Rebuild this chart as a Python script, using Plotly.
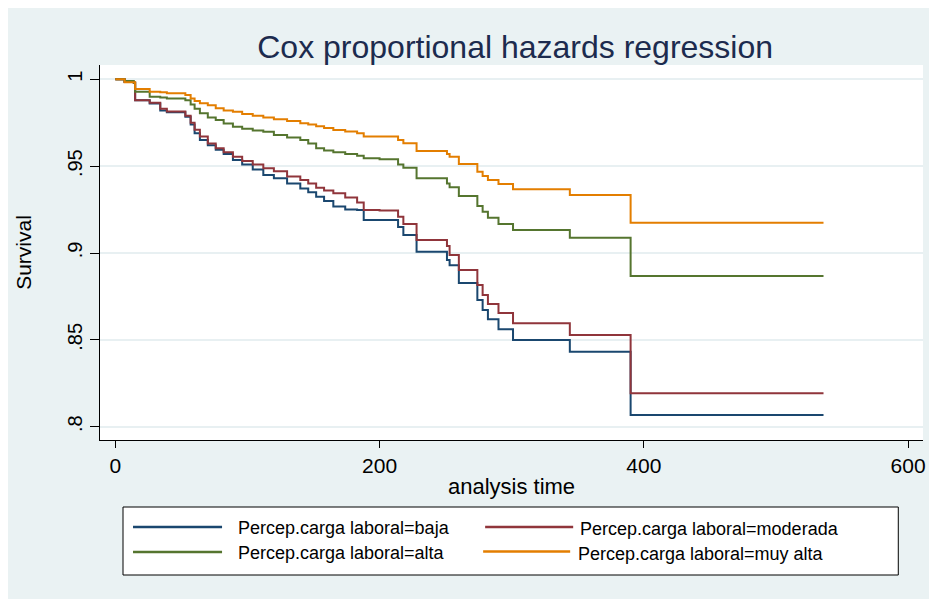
import plotly.graph_objects as go

# ---------------- data ----------------
tiempo = [0, 7, 14, 15, 26, 34, 39, 53, 57, 60, 64, 70, 76, 82, 89, 96, 104, 112,
          120, 130, 140, 146, 152, 158, 165, 174, 183, 188, 200, 214, 218, 228,
          251, 253, 260, 274, 278, 282, 290, 301, 344, 390, 536]

s_baja = [1.0, 0.9985, 0.998, 0.988, 0.986, 0.982, 0.981, 0.9785, 0.974, 0.969, 0.965,
          0.962, 0.9595, 0.957, 0.9535, 0.951, 0.948, 0.9449, 0.943, 0.940, 0.9372,
          0.935, 0.9324, 0.930, 0.9267, 0.925, 0.9248, 0.919, 0.919, 0.915, 0.9104,
          0.9007, 0.896, 0.893, 0.8827, 0.873, 0.8672, 0.8618, 0.8561, 0.8499, 0.8432,
          0.8067, 0.8067]

s_moderada = [1.0, 0.9985, 0.998, 0.988, 0.9865, 0.983, 0.9815, 0.979, 0.975, 0.971,
              0.967, 0.963, 0.9603, 0.958, 0.9554, 0.953, 0.951, 0.9488, 0.947, 0.944,
              0.942, 0.940, 0.9375, 0.936, 0.9344, 0.932, 0.929, 0.9248, 0.9244, 0.9209,
              0.9167, 0.9075, 0.904, 0.8988, 0.8902, 0.8816, 0.8758, 0.8706, 0.8654,
              0.8595, 0.8528, 0.8192, 0.8192]

s_alta = [1.0, 0.999, 0.998, 0.9929, 0.990, 0.9895, 0.989, 0.988, 0.9855, 0.983, 0.9804,
          0.978, 0.9766, 0.9745, 0.9727, 0.9715, 0.9705, 0.9698, 0.968, 0.9665, 0.965,
          0.963, 0.9603, 0.959, 0.958, 0.957, 0.956, 0.9545, 0.9539, 0.951, 0.9491,
          0.943, 0.940, 0.9378, 0.9328, 0.927, 0.9238, 0.9203, 0.9167, 0.9132, 0.9088,
          0.8868, 0.8868]

s_muy_alta = [1.0, 0.9983, 0.9983, 0.9944, 0.9929, 0.9925, 0.9919, 0.991, 0.989, 0.9875,
              0.9862, 0.985, 0.9833, 0.982, 0.9813, 0.980, 0.979, 0.978, 0.977, 0.976,
              0.9747, 0.974, 0.973, 0.972, 0.9708, 0.970, 0.969, 0.967, 0.967, 0.965,
              0.9632, 0.9587, 0.957, 0.9554, 0.9512, 0.9468, 0.9443, 0.942, 0.9397,
              0.9367, 0.9334, 0.9174, 0.9174]

series_names = ["Percep.carga laboral=baja", "Percep.carga laboral=moderada",
                "Percep.carga laboral=alta", "Percep.carga laboral=muy alta"]
series_values = [s_baja, s_moderada, s_alta, s_muy_alta]
series_colors = ["#1a476f", "#90353b", "#55752f", "#e37e00"]

y_tick_vals = [0.8, 0.85, 0.9, 0.95, 1.0]
y_tick_text = [".8", ".85", ".9", ".95", "1"]
x_tick_vals = [0, 200, 400, 600]
x_tick_text = ["0", "200", "400", "600"]

# ---------------- figure ----------------
OFF = 8                      # browser body margin
W, H = 937 - OFF, 599 - OFF
L, R, T, B = 92, 14.3, 57, 159
pw, ph = W - L - R, H - T - B


def px_x(px):   # page pixel -> paper coordinate
    return (px - OFF - L) / pw


def px_y(py):
    return (H - B - (py - OFF)) / ph


fig = go.Figure()
for name, vals, col in zip(series_names, series_values, series_colors):
    fig.add_trace(go.Scatter(x=tiempo, y=vals, mode="lines", name=name,
                             line=dict(color=col, width=2, shape="hv"),
                             showlegend=False))

shapes = []
annotations = []

# legend box
shapes.append(dict(type="rect", xref="paper", yref="paper", x0=px_x(123), x1=px_x(898),
                   y0=px_y(575), y1=px_y(507), fillcolor="white",
                   line=dict(color="black", width=1)))
leg_pos = [  # line x0, x1, y, text x, text y
    (133, 222, 527, 236, 528),
    (485, 573, 527, 578, 529),
    (133, 222, 552, 236, 553),
    (483, 570, 551.5, 576, 554),
]
for (lx0, lx1, ly, tx, ty), name, col in zip(leg_pos, series_names, series_colors):
    shapes.append(dict(type="line", xref="paper", yref="paper", x0=px_x(lx0), x1=px_x(lx1),
                       y0=px_y(ly), y1=px_y(ly), line=dict(color=col, width=2.5)))
    annotations.append(dict(xref="paper", yref="paper", x=px_x(tx), y=px_y(ty),
                            text=name, showarrow=False, xanchor="left", yanchor="middle",
                            font=dict(size=18, color="black")))

fig.update_layout(
    width=W, height=H,
    margin=dict(l=L, r=R, t=T, b=B, pad=0),
    paper_bgcolor="#eaf2f3",
    plot_bgcolor="white",
    font=dict(family="Liberation Sans, Arial, sans-serif", color="black"),
    title=dict(text="Cox proportional hazards regression", x=px_x(515), xref="paper",
               xanchor="center", y=1 - (47 - OFF) / H, yref="container", yanchor="middle",
               font=dict(size=32, color="#1c2b4e")),
    shapes=shapes,
    annotations=annotations,
    showlegend=False,
)

fig.update_xaxes(range=[-11.6, 611.3], tickvals=x_tick_vals, ticktext=x_tick_text,
                 ticks="outside", ticklen=7, tickwidth=1.3, tickcolor="black",
                 showline=True, linecolor="black", linewidth=1.3, mirror=False,
                 showgrid=False, zeroline=False, tickfont=dict(size=21),
                 title=dict(text="analysis time", font=dict(size=22), standoff=2))
fig.update_yaxes(range=[0.79234, 1.00823], tickvals=y_tick_vals, ticktext=y_tick_text,
                 tickangle=-90, ticks="outside", ticklen=9, tickwidth=1.3, tickcolor="black",
                 showline=True, linecolor="black", linewidth=1.3, mirror=False,
                 showgrid=True, gridcolor="#e8f0f2", gridwidth=2, zeroline=False,
                 tickfont=dict(size=20),
                 title=dict(text="Survival", font=dict(size=21), standoff=26))

fig.write_html("out.html")
